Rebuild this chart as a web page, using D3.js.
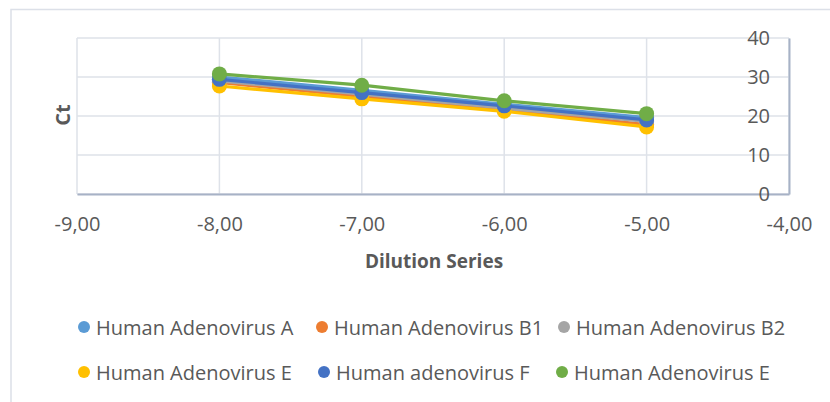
<!DOCTYPE html>
<html>
<head>
<meta charset="utf-8">
<script src="https://cdn.jsdelivr.net/npm/d3@7"></script>
<style>
  html, body { margin: 0; padding: 0; background: #fff; }
  svg { display: block; }
</style>
</head>
<body>
<svg id="chart" width="830" height="402"></svg>
<script>
// Dilution steps (log10) on the x axis
const dilutions = [-8, -7, -6, -5];

// Ct values per adenovirus assay
const seriesNames = [
  "Human Adenovirus A",
  "Human Adenovirus B1",
  "Human Adenovirus B2",
  "Human Adenovirus E",
  "Human adenovirus F",
  "Human Adenovirus E"
];
const ctA  = [30.0, 26.6, 23.0, 19.6];
const ctB1 = [28.6, 25.0, 21.6, 17.8];
const ctB2 = [29.0, 25.6, 22.0, 18.6];
const ctE  = [27.7, 24.4, 21.2, 17.2];
const ctF  = [29.4, 26.0, 22.6, 19.0];
const ctE2 = [30.8, 27.9, 23.9, 20.6];
const seriesValues = [ctA, ctB1, ctB2, ctE, ctF, ctE2];
const seriesColors = ["#5B9BD5", "#ED7D31", "#A5A5A5", "#FFC000", "#4472C4", "#70AD47"];

const xTicks = [-9, -8, -7, -6, -5, -4];
const yTicks = [0, 10, 20, 30, 40];

const svg = d3.select("#chart");
const font = "Open Sans, 'Noto Sans', sans-serif";
const textColor = "#595959";
const gridColor = "#DEE2E9";
const axisColor = "#A7B2C6";

// Chart frame
svg.append("rect")
  .attr("x", 11).attr("y", 9.5)
  .attr("width", 830).attr("height", 400)
  .attr("fill", "#fff")
  .attr("stroke", "#DCE0E8").attr("stroke-width", 1.5);

const x = d3.scaleLinear().domain([-9, -4]).range([77, 789]);
const y = d3.scaleLinear().domain([0, 40]).range([194, 38]);

// Gridlines
const grid = svg.append("g");
grid.selectAll("line.v").data(xTicks).join("line")
  .attr("x1", d => x(d)).attr("x2", d => x(d))
  .attr("y1", y(40)).attr("y2", y(0))
  .attr("stroke", gridColor).attr("stroke-width", 1.5);
grid.selectAll("line.h").data(yTicks).join("line")
  .attr("x1", x(-9)).attr("x2", x(-4))
  .attr("y1", d => y(d)).attr("y2", d => y(d))
  .attr("stroke", gridColor).attr("stroke-width", 1.5);

// X axis (crosses at y = 0)
const xAxis = svg.append("g")
  .attr("transform", `translate(0,${y(0)})`)
  .call(d3.axisBottom(x).tickValues(xTicks).tickSize(0).tickPadding(23)
    .tickFormat(d => d3.format(".2f")(d).replace(".", ",").replace("−", "-")));
xAxis.select(".domain").attr("stroke", axisColor).attr("stroke-width", 2);
xAxis.selectAll("text")
  .attr("font-family", font).attr("font-size", 20).attr("fill", textColor);

// Y axis (crosses at x = -4, labels on the inner side)
const yAxis = svg.append("g")
  .attr("transform", `translate(${x(-4)},0)`)
  .call(d3.axisLeft(y).tickValues(yTicks).tickSize(0).tickPadding(19));
yAxis.select(".domain").attr("stroke", axisColor).attr("stroke-width", 2);
yAxis.selectAll("text")
  .attr("font-family", font).attr("font-size", 20).attr("fill", textColor);

// Axis titles
svg.append("text")
  .attr("transform", `translate(62,115) rotate(-90)`)
  .attr("text-anchor", "middle").attr("dominant-baseline", "central")
  .attr("font-family", font).attr("font-size", 20).attr("font-weight", "bold")
  .attr("fill", textColor)
  .text("Ct");
svg.append("text")
  .attr("x", 434).attr("y", 261)
  .attr("text-anchor", "middle").attr("dominant-baseline", "central")
  .attr("font-family", font).attr("font-size", 19).attr("font-weight", "bold")
  .attr("fill", textColor)
  .text("Dilution Series");

// Series lines and markers
const line = d3.line().x(d => x(d[0])).y(d => y(d[1]));
seriesValues.forEach((vals, i) => {
  const pts = dilutions.map((d, j) => [d, vals[j]]);
  const g = svg.append("g");
  g.append("path").datum(pts)
    .attr("d", line).attr("fill", "none")
    .attr("stroke", seriesColors[i]).attr("stroke-width", 3.2)
    .attr("stroke-linecap", "round");
  g.selectAll("circle").data(pts).join("circle")
    .attr("cx", d => x(d[0])).attr("cy", d => y(d[1]))
    .attr("r", 7.5).attr("fill", seriesColors[i]);
});

// Legend: two rows of three
const legendPos = [
  [84, 327], [322, 327], [564, 327],
  [84, 372], [324, 372], [562, 372]
];
const legend = svg.append("g");
seriesNames.forEach((name, i) => {
  const [lx, ly] = legendPos[i];
  legend.append("circle").attr("cx", lx).attr("cy", ly).attr("r", 6)
    .attr("fill", seriesColors[i]);
  legend.append("text")
    .attr("x", lx + 12).attr("y", ly)
    .attr("dominant-baseline", "central")
    .attr("font-family", font).attr("font-size", 20).attr("fill", textColor)
    .text(name);
});
</script>
</body>
</html>
